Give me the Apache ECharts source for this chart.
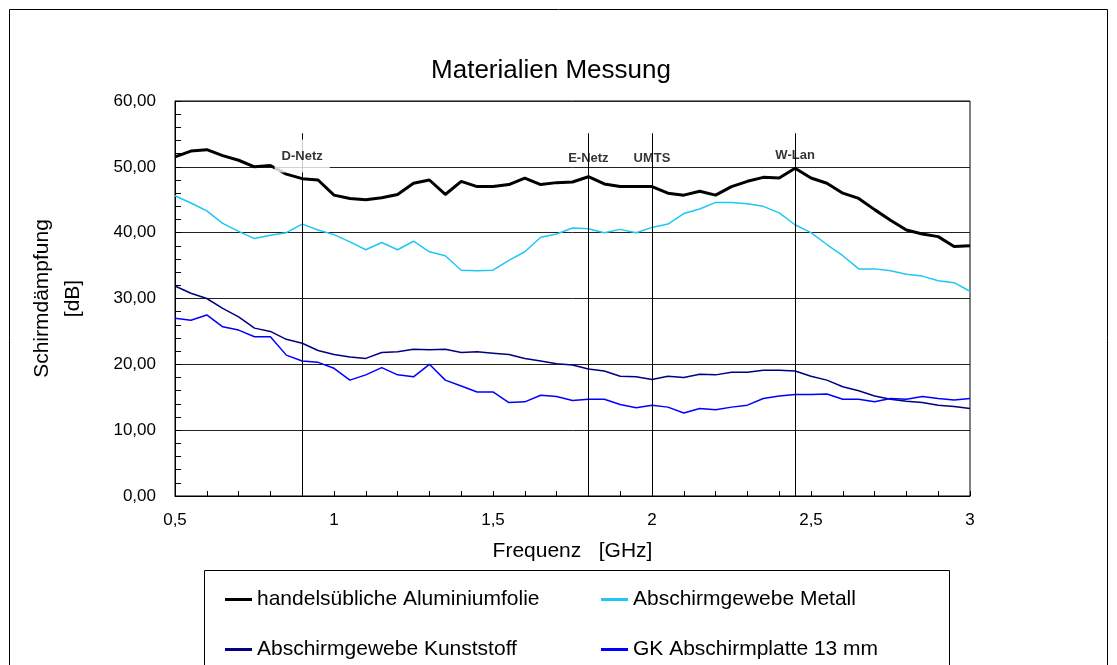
<!DOCTYPE html>
<html>
<head>
<meta charset="utf-8">
<script src="https://cdn.jsdelivr.net/npm/echarts@6/dist/echarts.min.js"></script>
<style>
  html, body { margin: 0; padding: 0; background: #fff; }
  #chart { width: 1117px; height: 665px; }
</style>
</head>
<body>
<div id="chart"></div>
<script>
  // frequency in GHz, 0.05 steps
  const freq = [
    0.5, 0.55, 0.6, 0.65, 0.7, 0.75, 0.8, 0.85, 0.9, 0.95,
    1.0, 1.05, 1.1, 1.15, 1.2, 1.25, 1.3, 1.35, 1.4, 1.45,
    1.5, 1.55, 1.6, 1.65, 1.7, 1.75, 1.8, 1.85, 1.9, 1.95,
    2.0, 2.05, 2.1, 2.15, 2.2, 2.25, 2.3, 2.35, 2.4, 2.45,
    2.5, 2.55, 2.6, 2.65, 2.7, 2.75, 2.8, 2.85, 2.9, 2.95, 3.0,
  ];

  const aluminium = [
    51.5, 52.4, 52.6, 51.7, 51.0, 50.0, 50.2, 48.9, 48.2, 48.0,
    45.7, 45.2, 45.0, 45.3, 45.8, 47.5, 48.0, 45.8, 47.8, 47.0,
    47.0, 47.3, 48.3, 47.3, 47.6, 47.7, 48.5, 47.4, 47.0, 47.0,
    47.0, 46.0, 45.7, 46.3, 45.7, 47.0, 47.8, 48.4, 48.3, 49.8,
    48.3, 47.5, 46.0, 45.2, 43.5, 41.9, 40.4, 39.8, 39.4, 37.9, 38.0,
  ];

  const gewebeMetall = [
    45.6, 44.5, 43.3, 41.4, 40.2, 39.1, 39.6, 40.0, 41.3, 40.4,
    39.7, 38.6, 37.4, 38.5, 37.4, 38.7, 37.1, 36.5, 34.3, 34.2,
    34.3, 35.8, 37.1, 39.3, 39.8, 40.7, 40.6, 40.0, 40.5, 40.0,
    40.8, 41.3, 42.9, 43.6, 44.6, 44.6, 44.4, 44.0, 43.0, 41.2,
    40.0, 38.2, 36.5, 34.5, 34.5, 34.2, 33.7, 33.4, 32.7, 32.4, 31.1,
  ];

  const gewebeKunststoff = [
    31.9, 30.8, 30.0, 28.5, 27.2, 25.5, 25.0, 23.8, 23.2, 22.1,
    21.5, 21.1, 20.9, 21.8, 21.9, 22.3, 22.2, 22.3, 21.8, 21.9,
    21.7, 21.5, 20.9, 20.5, 20.1, 19.9, 19.3, 19.0, 18.2, 18.1,
    17.7, 18.2, 18.0, 18.5, 18.4, 18.8, 18.8, 19.1, 19.1, 19.0,
    18.2, 17.6, 16.6, 16.0, 15.2, 14.7, 14.4, 14.2, 13.8, 13.6, 13.3,
  ];

  const gkPlatte = [
    27.0, 26.7, 27.5, 25.7, 25.2, 24.2, 24.2, 21.4, 20.5, 20.3,
    19.4, 17.6, 18.4, 19.5, 18.4, 18.1, 20.0, 17.6, 16.7, 15.8,
    15.8, 14.2, 14.3, 15.3, 15.1, 14.5, 14.7, 14.7, 13.9, 13.4,
    13.8, 13.5, 12.6, 13.3, 13.1, 13.5, 13.8, 14.8, 15.2, 15.4,
    15.4, 15.5, 14.7, 14.7, 14.3, 14.8, 14.7, 15.1, 14.8, 14.6, 14.8,
  ];

  // frequency bands marked in the chart
  const bandNames = ['D-Netz', 'E-Netz', 'UMTS', 'W-Lan'];
  const bandFreq = [0.9, 1.8, 2.0, 2.45];
  const bandLabelY = [51.65, 51.35, 51.35, 51.8];
  const bandTop = 55.1;

  const seriesNames = [
    'handelsübliche Aluminiumfolie',
    'Abschirmgewebe Metall',
    'Abschirmgewebe Kunststoff',
    'GK Abschirmplatte 13 mm',
  ];

  const font = "'Liberation Sans', Arial, sans-serif";
  const comma = (v, d) => v.toFixed(d).replace('.', ',');
  const pairs = (vals) => freq.map((f, i) => [f, vals[i]]);

  const chart = echarts.init(document.getElementById('chart'));

  chart.setOption({
    animation: false,
    textStyle: { fontFamily: font, color: '#000' },
    title: {
      text: 'Materialien Messung',
      left: 546,
      textAlign: 'center',
      top: 53,
      textStyle: { fontSize: 26, fontWeight: 'normal', color: '#000', fontFamily: font },
    },
    grid: {
      left: 175,
      right: 147,
      top: 101,
      bottom: 169,
      show: true,
      borderColor: '#000',
      borderWidth: 1,
    },
    xAxis: {
      type: 'value',
      min: 0.5,
      max: 3,
      interval: 0.5,
      name: 'Frequenz   [GHz]',
      nameLocation: 'middle',
      nameGap: 45,
      nameTextStyle: { fontSize: 21, color: '#000', fontFamily: font },
      axisLine: { lineStyle: { color: '#000', width: 1 } },
      axisTick: { inside: true, length: 5, lineStyle: { color: '#000' } },
      minorTick: { show: true, splitNumber: 5, length: 5, lineStyle: { color: '#000' } },
      splitLine: { show: false },
      axisLabel: {
        margin: 16,
        fontSize: 17,
        color: '#000',
        formatter: (v) => (Number.isInteger(v) ? String(v) : comma(v, 1)),
      },
    },
    yAxis: {
      type: 'value',
      min: 0,
      max: 60,
      interval: 10,
      name: 'Schirmdämpfung\n[dB]',
      nameLocation: 'middle',
      nameGap: 86,
      nameTextStyle: { fontSize: 21, color: '#000', fontFamily: font, lineHeight: 31 },
      axisLine: { show: true, lineStyle: { color: '#000', width: 1 } },
      axisTick: { inside: true, length: 6, lineStyle: { color: '#000' } },
      minorTick: { show: true, splitNumber: 5, length: 6, lineStyle: { color: '#000' } },
      splitLine: { lineStyle: { color: '#222', width: 1 } },
      axisLabel: {
        margin: 19,
        fontSize: 17,
        color: '#000',
        formatter: (v) => comma(v, 2),
      },
    },
    legend: [
      {
        left: 220,
        top: 584,
        orient: 'vertical',
        itemGap: 29,
        itemWidth: 27,
        itemHeight: 3,
        icon: 'rect',
        data: [seriesNames[0], seriesNames[2]],
        textStyle: { fontSize: 21, color: '#000', fontFamily: font },
      },
      {
        left: 596,
        top: 584,
        orient: 'vertical',
        itemGap: 29,
        itemWidth: 27,
        itemHeight: 3,
        icon: 'rect',
        data: [seriesNames[1], seriesNames[3]],
        textStyle: { fontSize: 21, color: '#000', fontFamily: font },
      },
    ],
    graphic: [
      {
        type: 'rect',
        shape: { x: 9.5, y: 9.5, width: 1098, height: 700 },
        style: { fill: 'none', stroke: '#000', lineWidth: 1 },
        silent: true,
      },
      {
        type: 'rect',
        shape: { x: 204.5, y: 570.5, width: 745, height: 120 },
        style: { fill: 'none', stroke: '#000', lineWidth: 1 },
        silent: true,
      },
    ],
    series: [
      {
        name: seriesNames[0],
        type: 'line',
        data: pairs(aluminium),
        showSymbol: false,
        z: 5,
        lineStyle: { color: '#000', width: 3 },
        itemStyle: { color: '#000' },
        markLine: {
          silent: true,
          symbol: 'none',
          label: { show: false },
          lineStyle: { color: '#000', width: 1, type: 'solid' },
          data: bandFreq.map((f) => [{ coord: [f, bandTop] }, { coord: [f, 0] }]),
        },
      },
      {
        name: seriesNames[1],
        type: 'line',
        data: pairs(gewebeMetall),
        showSymbol: false,
        lineStyle: { color: '#1EC8F5', width: 1.5 },
        itemStyle: { color: '#1EC8F5' },
      },
      {
        name: seriesNames[2],
        type: 'line',
        data: pairs(gewebeKunststoff),
        showSymbol: false,
        lineStyle: { color: '#000080', width: 1.5 },
        itemStyle: { color: '#000080' },
      },
      {
        name: seriesNames[3],
        type: 'line',
        data: pairs(gkPlatte),
        showSymbol: false,
        lineStyle: { color: '#0000FF', width: 1.5 },
        itemStyle: { color: '#0000FF' },
      },
      {
        // band labels; the first one sits on a white box
        type: 'scatter',
        z: 10,
        symbolSize: 0,
        silent: true,
        data: bandNames.map((n, i) => ({
          value: [bandFreq[i], bandLabelY[i]],
          name: n,
          label: i === 0 ? { backgroundColor: '#fff', padding: [10, 7] } : {},
        })),
        label: {
          show: true,
          position: 'inside',
          formatter: (p) => p.name,
          fontSize: 13,
          fontWeight: 'bold',
          color: '#000',
          fontFamily: font,
        },
        labelLayout: { hideOverlap: false },
      },
    ],
  });
</script>
</body>
</html>
